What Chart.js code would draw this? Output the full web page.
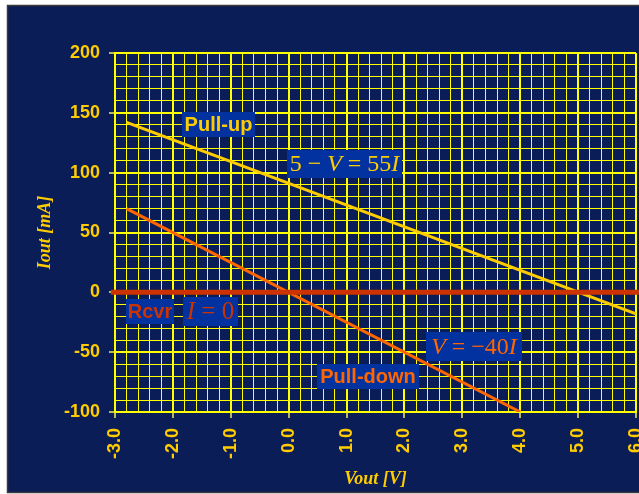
<!DOCTYPE html>
<html lang="en">
<head>
    <meta charset="UTF-8">
    <title>Output I-V characteristics</title>
    <script src="https://cdn.jsdelivr.net/npm/chart.js"></script>
    <style>
        html, body {
            margin: 0;
            padding: 0;
            background: #ffffff;
        }
        #wrap {
            position: absolute;
            left: 0;
            top: 0;
            width: 639px;
            height: 494px;
        }
    </style>
</head>
<body>
    <div id="wrap"><canvas id="ivChart" width="639" height="494"></canvas></div>

    <script>
        // values
        const pullUpV = [-2.8, 6.0];
        const pullUpI = [142, -18];
        const pullDownV = [-2.8, 4.0];
        const pullDownI = [70, -100];
        const rcvrV = [-3.07, 6.05];
        const rcvrI = [0, 0];

        // axis ticks
        const xLabelValues = [-3, -2, -1, 0, 1, 2, 3, 4, 5, 6];
        const yLabelValues = [-100, -50, 0, 50, 100, 150, 200];

        const NAVY = "#0b1d56";
        const BOXBLUE = "#0232a0";
        const GOLD = "#ffcc00";
        const ORANGE = "#ff6600";
        const RED = "#cc3300";
        const SANS = "'Liberation Sans', Arial, sans-serif";
        const SERIF = "'Liberation Serif', 'Times New Roman', serif";

        function isIn(list, v) {
            return list.some(function (t) { return Math.abs(t - v) < 1e-6; });
        }

        function toPoints(xs, ys) {
            return xs.map(function (x, i) { return { x: x, y: ys[i] }; });
        }

        // text boxes on the plot
        const labels = [
            { x: 182, y: 112, w: 73, h: 25, color: GOLD, parts: [["Pull-up", "bold 20px " + SANS]] },
            { x: 287, y: 150, w: 115, h: 28, color: GOLD, parts: [["5 \u2212 ", "24px " + SERIF], ["V", "italic 24px " + SERIF], [" = 55", "24px " + SERIF], ["I", "italic 24px " + SERIF]] },
            { x: 126, y: 299, w: 48, h: 25, color: RED, parts: [["Rcvr", "bold 20px " + SANS]] },
            { x: 183, y: 297, w: 55, h: 29, color: RED, parts: [["I", "italic 25px " + SERIF], [" = 0", "25px " + SERIF]] },
            { x: 426, y: 332, w: 96, h: 29, color: ORANGE, parts: [["V", "italic 24px " + SERIF], [" = \u221240", "24px " + SERIF], ["I", "italic 24px " + SERIF]] },
            { x: 317, y: 364, w: 102, h: 25, color: ORANGE, parts: [["Pull-down", "bold 20px " + SANS]] }
        ];

        const framePlugin = {
            id: "frame",
            beforeDraw: function (chart) {
                const ctx = chart.ctx;
                ctx.save();
                ctx.fillStyle = "#ffffff";
                ctx.fillRect(0, 0, chart.width, chart.height);
                ctx.fillStyle = NAVY;
                ctx.fillRect(7, 5, chart.width - 7, chart.height - 6);
                ctx.strokeStyle = "#3a3a3a";
                ctx.lineWidth = 1.5;
                ctx.strokeRect(7.5, 5.5, chart.width, chart.height - 7);
                ctx.restore();
            }
        };

        const labelPlugin = {
            id: "boxLabels",
            afterDatasetsDraw: function (chart) {
                const ctx = chart.ctx;
                ctx.save();
                labels.forEach(function (lb) {
                    ctx.fillStyle = BOXBLUE;
                    ctx.fillRect(lb.x, lb.y, lb.w, lb.h);
                    let total = 0;
                    lb.parts.forEach(function (p) {
                        ctx.font = p[1];
                        total += ctx.measureText(p[0]).width;
                    });
                    let cx = lb.x + (lb.w - total) / 2;
                    ctx.textBaseline = "middle";
                    ctx.textAlign = "left";
                    ctx.fillStyle = lb.color;
                    lb.parts.forEach(function (p) {
                        ctx.font = p[1];
                        ctx.fillText(p[0], cx, lb.y + lb.h / 2 + 1);
                        cx += ctx.measureText(p[0]).width;
                    });
                });
                ctx.restore();
            }
        };

        const ctx = document.getElementById("ivChart").getContext("2d");

        new Chart(ctx, {
            type: "scatter",
            data: {
                datasets: [
                    {
                        label: "Rcvr",
                        data: toPoints(rcvrV, rcvrI),
                        showLine: true,
                        borderColor: RED,
                        borderWidth: 5,
                        pointRadius: 0,
                        clip: false
                    },
                    {
                        label: "Pull-down",
                        data: toPoints(pullDownV, pullDownI),
                        showLine: true,
                        borderColor: ORANGE,
                        borderWidth: 3,
                        pointRadius: 0
                    },
                    {
                        label: "Pull-up",
                        data: toPoints(pullUpV, pullUpI),
                        showLine: true,
                        borderColor: GOLD,
                        borderWidth: 3,
                        pointRadius: 0
                    }
                ]
            },
            options: {
                responsive: false,
                animation: false,
                layout: {
                    padding: { left: 0, top: 53, right: 3, bottom: 0 }
                },
                plugins: {
                    legend: { display: false },
                    tooltip: { enabled: false }
                },
                scales: {
                    x: {
                        type: "linear",
                        min: -3,
                        max: 6,
                        afterFit: function (scale) {
                            scale.height = 82;
                            scale.paddingLeft = 0;
                            scale.paddingRight = 0;
                        },
                        ticks: {
                            stepSize: 0.2,
                            autoSkip: false,
                            minRotation: 90,
                            maxRotation: 90,
                            padding: 10,
                            color: GOLD,
                            font: { family: SANS, size: 18, weight: "bold" },
                            callback: function (v) {
                                return isIn(xLabelValues, v) ? Number(v).toFixed(1) : "";
                            }
                        },
                        grid: {
                            color: "#ffff00",
                            lineWidth: function (c) {
                                return c.tick && isIn(xLabelValues, c.tick.value) ? 2 : 1;
                            },
                            tickLength: 6,
                            tickWidth: 2,
                            tickColor: function (c) {
                                return c.tick && isIn(xLabelValues, c.tick.value) ? "#b8b860" : "rgba(0,0,0,0)";
                            }
                        },
                        border: { color: "#ffff00", width: 2 },
                        title: {
                            display: true,
                            text: "Vout [V]",
                            color: GOLD,
                            font: { family: SERIF, size: 18, weight: "bold", style: "italic" },
                            padding: { top: 0, bottom: 4 }
                        }
                    },
                    y: {
                        type: "linear",
                        min: -100,
                        max: 200,
                        afterFit: function (scale) { scale.width = 115; },
                        ticks: {
                            stepSize: 10,
                            autoSkip: false,
                            padding: 9,
                            color: GOLD,
                            font: { family: SANS, size: 18, weight: "bold" },
                            callback: function (v) {
                                return isIn(yLabelValues, v) ? String(v) : "";
                            }
                        },
                        grid: {
                            color: "#ffff00",
                            lineWidth: function (c) {
                                return c.tick && isIn(yLabelValues, c.tick.value) ? 2 : 1;
                            },
                            tickLength: 6,
                            tickWidth: 2,
                            tickColor: function (c) {
                                return c.tick && isIn(yLabelValues, c.tick.value) ? "#b8b860" : "rgba(0,0,0,0)";
                            }
                        },
                        border: { color: "#ffff00", width: 2 },
                        title: {
                            display: true,
                            text: "Iout [mA]",
                            color: GOLD,
                            font: { family: SERIF, size: 18, weight: "bold", style: "italic" },
                            padding: { top: 35, bottom: 0 }
                        }
                    }
                }
            },
            plugins: [framePlugin, labelPlugin]
        });
    </script>
</body>
</html>
